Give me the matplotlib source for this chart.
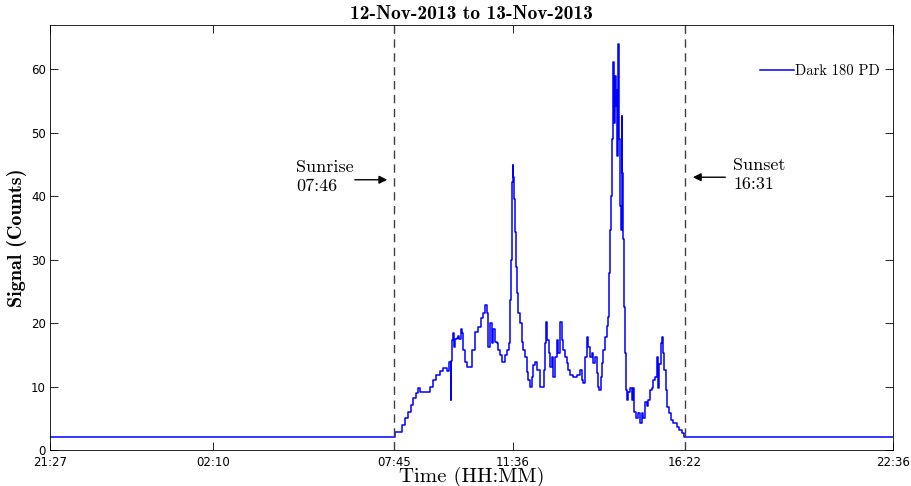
import matplotlib
matplotlib.use('Agg')
import matplotlib.pyplot as plt

# sample position along the record and detector counts
sample = [0, 344.0, 345.0, 351.7, 355.0, 358.3, 360.7, 363.3, 366.0, 368.0, 370.0,
          380.0, 382.7, 386.0, 390.0, 393.0, 396.7, 399.3, 400.7, 401.3, 401.7,
          403.3, 404.0, 405.0, 406.7, 408.0, 409.0, 411.0, 412.0, 413.3, 415.0,
          417.0, 421.7, 425.0, 428.3, 430.7, 433.3, 435.3, 436.7, 438.3, 440.0,
          441.7, 443.3, 445.0, 446.7, 448.3, 450.0, 452.3, 455.0, 456.7, 459.3,
          460.0, 461.0, 462.0, 462.7, 463.3, 464.3, 465.0, 466.0, 467.3, 468.3,
          470.0, 471.7, 473.3, 475.0, 476.7, 478.3, 480.0, 481.7, 483.3, 485.0,
          487.3, 490.0, 494.0, 495.0, 496.0, 497.3, 498.7, 500.0, 501.7, 503.3,
          505.0, 506.7, 508.3, 510.0, 511.7, 513.3, 515.0, 516.7, 518.3, 520.0,
          523.3, 526.7, 530.0, 531.7, 533.3, 535.0, 536.7, 538.3, 540.0, 541.7,
          543.3, 545.0, 546.7, 548.3, 549.3, 550.7, 551.7, 553.3, 555.0, 556.7,
          558.3, 559.3, 560.0, 561.0, 561.7, 562.7, 563.3, 564.0, 565.0, 566.0,
          566.7, 567.3, 568.3, 569.0, 570.0, 570.7, 571.7, 572.3, 573.3, 574.0,
          575.0, 576.0, 576.7, 578.3, 580.0, 581.7, 582.7, 584.0, 586.0, 588.3,
          590.0, 591.7, 593.3, 595.0, 596.7, 598.3, 600.0, 601.7, 603.3, 605.0,
          606.7, 608.3, 609.3, 610.7, 612.0, 613.3, 614.3, 615.7, 617.3, 619.0,
          620.7, 622.7, 626.7, 629.3, 631.7, 634.0, 635.0, 843.0]
counts = [2.0, 2.0, 2.8, 3.9, 5.0, 6.0, 7.1, 8.2, 9.0, 9.8, 9.2,
          10.0, 11.0, 11.8, 12.5, 13.0, 12.5, 13.9, 7.9, 14.0, 17.4,
          18.5, 16.2, 17.5, 17.7, 18.0, 17.5, 19.0, 18.5, 15.8, 13.9,
          13.1, 15.8, 18.6, 19.4, 20.8, 21.6, 22.9, 21.6, 16.3, 20.0,
          16.9, 19.0, 17.1, 16.9, 15.8, 15.0, 13.9, 15.0, 15.8, 16.9,
          23.7, 30.0, 42.2, 45.0, 43.1, 39.5, 34.3, 28.9, 24.8, 21.6,
          20.0, 17.1, 15.8, 14.7, 12.3, 11.0, 10.0, 11.5, 13.4, 13.9,
          12.6, 10.0, 12.6, 16.9, 20.2, 17.4, 15.3, 13.1, 14.7, 11.5,
          14.7, 17.4, 15.3, 20.2, 17.4, 15.8, 14.7, 13.7, 12.6, 11.8,
          11.5, 11.8, 12.6, 11.0, 10.6, 14.7, 17.8, 16.3, 14.7, 15.3,
          13.7, 14.7, 12.2, 10.0, 9.5, 11.5, 13.7, 15.8, 17.8, 19.5,
          21.0, 27.9, 34.7, 40.0, 49.0, 58.9, 61.1, 51.6, 58.9, 54.2,
          56.8, 46.3, 64.0, 49.0, 38.4, 34.7, 52.6, 43.7, 33.2, 22.6,
          15.3, 9.5, 7.9, 9.2, 9.8, 7.9, 9.8, 6.0, 5.0, 5.8,
          4.3, 5.8, 5.0, 7.6, 7.0, 7.9, 9.5, 9.8, 11.0, 11.5,
          14.7, 9.8, 13.5, 16.9, 17.8, 15.3, 12.6, 9.5, 6.8, 5.8,
          4.7, 4.3, 3.6, 3.2, 2.7, 2.1, 2.0, 2.0]

tick_pos = [0, 163, 344, 463, 635, 843]
tick_labels = ['21:27', '02:10', '07:45', '11:36', '16:22', '22:36']
sunrise_pos, sunset_pos = 344, 635

serif = 'cmr10'
serif_bold = 'cmb10'
tick_font = ['Liberation Sans Narrow', 'DejaVu Sans']

fig = plt.figure(figsize=(9.12, 4.86), dpi=100)
ax = fig.add_axes([0.0548, 0.0741, 0.9245, 0.8745])

ax.plot(sample, counts, color='#0000ff', lw=1.1, drawstyle='steps-post', label='Dark 180 PD')

for xv in (sunrise_pos, sunset_pos):
    ax.axvline(xv, color='#404040', lw=1.0, ls=(0, (6, 4)))

ax.annotate('', xy=(340, 42.6), xytext=(302, 42.6),
            arrowprops=dict(arrowstyle='-|>', color='black', lw=1.0, mutation_scale=12))
ax.text(246, 43.0, 'Sunrise\n07:46', family=serif, fontsize=13, va='center', ha='left',
        linespacing=1.3)
ax.annotate('', xy=(640, 43.0), xytext=(678, 43.0),
            arrowprops=dict(arrowstyle='-|>', color='black', lw=1.0, mutation_scale=12))
ax.text(683, 43.3, 'Sunset\n16:31', family=serif, fontsize=13, va='center', ha='left',
        linespacing=1.3)

ax.set_xlim(0, 843)
ax.set_ylim(0, 67)
ax.set_xticks(tick_pos)
ax.set_xticklabels(tick_labels)
ax.set_yticks(range(0, 61, 10))
ax.tick_params(direction='in', top=True, right=True, length=6, width=0.6, labelsize=8.5, pad=3)
ax.tick_params(axis='x', pad=4)
for lab in ax.get_xticklabels() + ax.get_yticklabels():
    lab.set_family(tick_font)
for sp in ax.spines.values():
    sp.set_linewidth(0.6)

ax.set_title('12-Nov-2013 to 13-Nov-2013', family=serif_bold, fontsize=14, pad=4)
ax.set_xlabel('Time (HH:MM)', family=serif, fontsize=15, labelpad=-1)
ax.set_ylabel('Signal (Counts)', family=serif_bold, fontsize=14.5, labelpad=3)

leg = ax.legend(loc='upper right', bbox_to_anchor=(0.998, 0.935), frameon=False,
                prop={'family': serif, 'size': 10.5},
                handlelength=2.3, handletextpad=0.1, borderaxespad=0.4)

fig.savefig('out.png', dpi=100)
